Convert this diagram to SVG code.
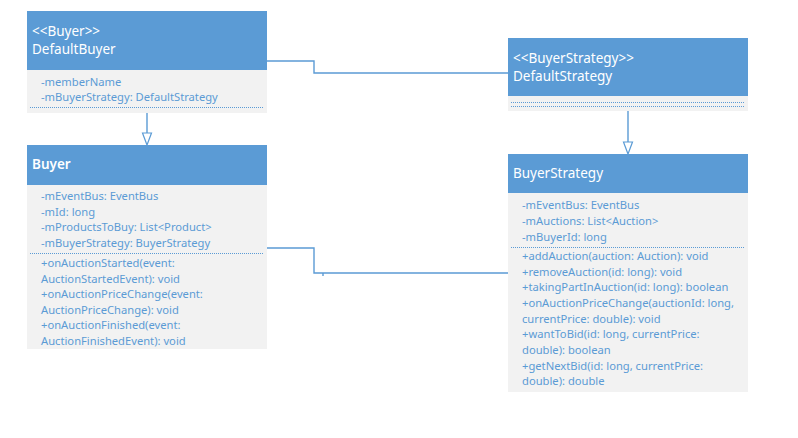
<svg xmlns="http://www.w3.org/2000/svg" width="798" height="438" viewBox="0 0 798 438">
<defs>
<style>
.hd{fill:#5B9BD5}
.bd{fill:#F2F2F2}
.ht{fill:#FFFFFF;font-family:"Noto Sans","Open Sans",sans-serif;font-size:13.5px}
.bt{fill:#5B9BD5;font-family:"Noto Sans","Open Sans",sans-serif;font-size:11.2px}
.dot{stroke:#5B9BD5;stroke-width:1;stroke-dasharray:1 1;fill:none}
.ln{stroke:#5B9BD5;stroke-width:1.4;fill:none}
.tri{fill:#FFFFFF;stroke:#5B9BD5;stroke-width:1.2}
</style>
</defs>
<rect width="798" height="438" fill="#FFFFFF"/>
<g id="connectors">
<polyline class="ln" points="267,61 314,61 314,73 508,73"/>
<polyline class="ln" points="267,248 314,248 314,273 508,273"/>
<line class="ln" x1="323" y1="273" x2="323" y2="276"/>
<line class="ln" x1="147" y1="113" x2="147" y2="133"/>
<polygon class="tri" points="142.5,133 151.5,133 147,145"/>
<line class="ln" x1="628" y1="111" x2="628" y2="142"/>
<polygon class="tri" points="623.5,142 632.5,142 628,154"/>
</g>
<g id="DefaultBuyer">
<rect class="hd" x="27" y="11" width="240" height="59"/>
<rect class="bd" x="27" y="70" width="240" height="43"/>
<text class="ht" x="32" y="36">&lt;&lt;Buyer&gt;&gt;</text>
<text class="ht" x="32" y="54">DefaultBuyer</text>
<text class="bt" x="41" y="86">-memberName</text>
<text class="bt" x="41" y="101">-mBuyerStrategy: DefaultStrategy</text>
<line class="dot" x1="30" y1="107.5" x2="264" y2="107.5"/>
</g>
<g id="Buyer">
<rect class="hd" x="27" y="145" width="240" height="40"/>
<rect class="bd" x="27" y="185" width="240" height="164"/>
<text class="ht" x="32" y="169" font-weight="600">Buyer</text>
<text class="bt" x="41" y="200">-mEventBus: EventBus</text>
<text class="bt" x="41" y="215.5">-mId: long</text>
<text class="bt" x="41" y="231">-mProductsToBuy: List&lt;Product&gt;</text>
<text class="bt" x="41" y="246.5">-mBuyerStrategy: BuyerStrategy</text>
<line class="dot" x1="30" y1="253.5" x2="264" y2="253.5"/>
<text class="bt" x="41" y="267">+onAuctionStarted(event:</text>
<text class="bt" x="41" y="282.5">AuctionStartedEvent): void</text>
<text class="bt" x="41" y="298">+onAuctionPriceChange(event:</text>
<text class="bt" x="41" y="313.5">AuctionPriceChange): void</text>
<text class="bt" x="41" y="329">+onAuctionFinished(event:</text>
<text class="bt" x="41" y="344.5">AuctionFinishedEvent): void</text>
</g>
<g id="DefaultStrategy">
<rect class="hd" x="508" y="38" width="240" height="58"/>
<rect class="bd" x="508" y="96" width="240" height="15"/>
<text class="ht" x="513" y="63">&lt;&lt;BuyerStrategy&gt;&gt;</text>
<text class="ht" x="513" y="81">DefaultStrategy</text>
<line class="dot" x1="511" y1="102.5" x2="745" y2="102.5"/>
<line class="dot" x1="511" y1="106.5" x2="745" y2="106.5"/>
</g>
<g id="BuyerStrategy">
<rect class="hd" x="508" y="154" width="240" height="39"/>
<rect class="bd" x="508" y="193" width="240" height="199"/>
<text class="ht" x="513" y="178">BuyerStrategy</text>
<text class="bt" x="522" y="209">-mEventBus: EventBus</text>
<text class="bt" x="522" y="225">-mAuctions: List&lt;Auction&gt;</text>
<text class="bt" x="522" y="241">-mBuyerId: long</text>
<line class="dot" x1="511" y1="247.5" x2="745" y2="247.5"/>
<text class="bt" x="522" y="260">+addAuction(auction: Auction): void</text>
<text class="bt" x="522" y="275.5">+removeAuction(id: long): void</text>
<text class="bt" x="522" y="291">+takingPartInAuction(id: long): boolean</text>
<text class="bt" x="522" y="307">+onAuctionPriceChange(auctionId: long,</text>
<text class="bt" x="522" y="322.5">currentPrice: double): void</text>
<text class="bt" x="522" y="338">+wantToBid(id: long, currentPrice:</text>
<text class="bt" x="522" y="354">double): boolean</text>
<text class="bt" x="522" y="369.5">+getNextBid(id: long, currentPrice:</text>
<text class="bt" x="522" y="385">double): double</text>
</g>
</svg>
